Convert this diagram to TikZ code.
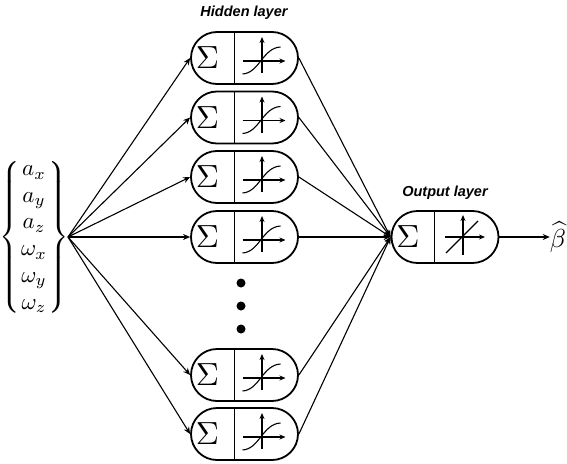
\documentclass[tikz,border=0pt]{standalone}
\usepackage{fontspec}
\setsansfont{Liberation Sans}
\usetikzlibrary{shapes.misc,arrows.meta}
\tikzset{
  cell/.style={rounded rectangle, draw, line width=1.8pt, minimum width=107pt, minimum height=52pt, inner sep=0pt},
  conn/.style={line width=1.1pt, -{Stealth[length=7pt,width=6pt]}},
  axisarrow/.style={line width=1.1pt, -{Stealth[length=6pt,width=5pt]}},
  lbl/.style={font=\sffamily\bfseries\itshape\fontsize{14.5}{17}\selectfont},
  sig/.style={inner sep=0pt},
  bigdot/.style={circle, fill, inner sep=0pt, minimum size=9pt}
}
\newcommand{\cellparts}[1]{%
  \draw[line width=1pt] ([xshift=-10.5pt]#1.north) -- ([xshift=-10.5pt]#1.south);
  \node[sig] (#1s) at ([xshift=-37pt]#1.center) {\scalebox{3.2}{$\Sigma$}};
}
\newcommand{\sigicon}[1]{%
  \cellparts{#1}
  \begin{scope}[shift={(#1.center)}]
    \draw[axisarrow] (17.5,15) -- (17.5,-21);
    \draw[axisarrow] (-2,3) -- (41,3);
    \draw[line width=1.1pt] (-2,16) .. controls (15,15) and (18,-10) .. (36,-11);
  \end{scope}
}
\newcommand{\linicon}[1]{%
  \cellparts{#1}
  \begin{scope}[shift={(#1.center)}]
    \draw[axisarrow] (18,18) -- (18,-22);
    \draw[axisarrow] (0,0) -- (40,0);
    \draw[line width=1.1pt] (1,16) -- (33,-16);
  \end{scope}
}
\begin{document}
\begin{tikzpicture}[x=1pt,y=-1pt]
\useasboundingbox (0,0) rectangle (567,463);

\node[inner sep=0pt] (in) at (34,237) {\scalebox{2.3}{\fontsize{10}{11.6}\selectfont\setlength{\arraycolsep}{0.5pt}%
  $\left\{\begin{array}{c}a_x\\ a_y\\ a_z\\ \omega_x\\ \omega_y\\ \omega_z\end{array}\right\}$}};
\coordinate (src) at (68,237);

\node[cell] (h1) at (244.5,58) {};
\node[cell] (h2) at (244.5,117.5) {};
\node[cell] (h3) at (244.5,177) {};
\node[cell] (h4) at (244.5,237) {};
\node[cell] (h5) at (244.5,375) {};
\node[cell] (h6) at (244.5,434) {};
\foreach \n in {h1,h2,h3,h4,h5,h6} {\sigicon{\n}}

\node[bigdot] (d1) at (241,283) {};
\node[bigdot] (d2) at (241,306) {};
\node[bigdot] (d3) at (241,329) {};

\node[cell] (out) at (445,237) {};
\linicon{out}

\node[lbl] (hl) at (244,13) {Hidden layer};
\node[lbl] (ol) at (445,193) {Output layer};

\node[inner sep=0pt] (beta) at (558,237) {\scalebox{2.6}{$\widehat{\beta}$}};

\foreach \n in {h1,h2,h3,h4,h5,h6} {
  \draw[conn] (src) -- (\n.west);
  \draw[conn] (\n.east) -- (out.west);
}
\draw[conn] (out.east) -- (beta.west);
\end{tikzpicture}
\end{document}
